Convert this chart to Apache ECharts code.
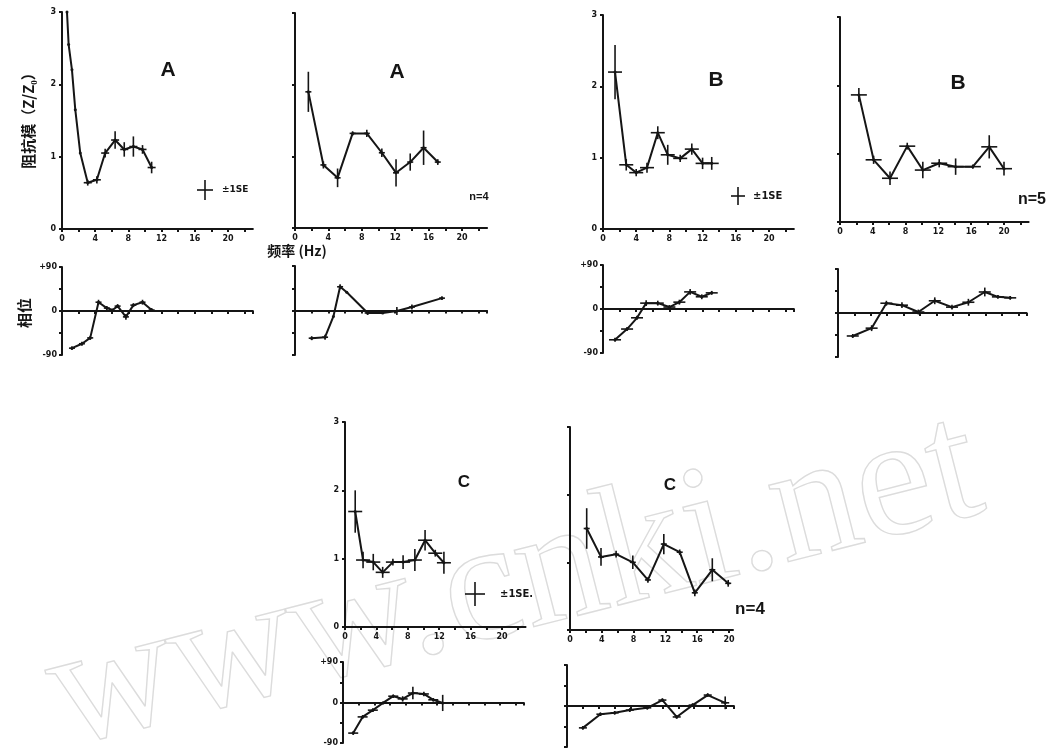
<!DOCTYPE html>
<html>
<head>
<meta charset="utf-8">
<script src="https://cdn.jsdelivr.net/npm/echarts@6/dist/echarts.min.js"></script>
<style>
  html, body { margin: 0; padding: 0; background: #fff; }
  #chart { width: 1046px; height: 751px; }
</style>
</head>
<body>
<div id="chart"></div>
<script>
// ---- Impedance magnitude Z/Z0 against frequency (Hz), with ±1 SE ----
const freqA1 = [0.6, 0.8, 1.2, 1.6, 2.2, 3.1, 4.2, 5.2, 6.4, 7.5, 8.6, 9.7, 10.8];
const zA1    = [3.0, 2.55, 2.2, 1.65, 1.05, 0.64, 0.68, 1.05, 1.23, 1.1, 1.14, 1.1, 0.85];
const seA1   = [null, null, null, null, null, 0.04, 0.05, 0.06, 0.12, 0.1, 0.14, 0.06, 0.08];

const freqA2 = [1.6, 3.4, 5.1, 6.9, 8.6, 10.4, 12.1, 13.8, 15.4, 17.1];
const zA2    = [1.9, 0.88, 0.70, 1.32, 1.32, 1.05, 0.77, 0.92, 1.12, 0.92];
const seA2   = [0.28, 0.05, 0.13, 0.03, 0.05, 0.06, 0.19, 0.12, 0.24, 0.04];

const freqB1 = [1.45, 2.8, 4.0, 5.3, 6.6, 7.8, 9.3, 10.7, 12.0, 13.1];
const zB1    = [2.2, 0.90, 0.79, 0.86, 1.35, 1.04, 0.99, 1.12, 0.92, 0.92];
const seB1   = [0.38, 0.08, 0.05, 0.07, 0.09, 0.14, 0.05, 0.08, 0.08, 0.09];

const freqB2 = [2.3, 4.1, 6.1, 8.2, 10.1, 12.1, 14.1, 16.2, 18.2, 20.0];
const zB2    = [1.86, 0.91, 0.64, 1.11, 0.76, 0.86, 0.81, 0.81, 1.10, 0.78];
const seB2   = [0.1, 0.06, 0.1, 0.05, 0.12, 0.06, 0.12, 0.03, 0.17, 0.1];

const freqC1 = [1.3, 2.3, 3.6, 4.8, 6.1, 7.4, 8.9, 10.2, 11.5, 12.6];
const zC1    = [1.69, 0.98, 0.95, 0.80, 0.95, 0.95, 0.98, 1.27, 1.08, 0.94];
const seC1   = [0.31, 0.12, 0.12, 0.08, 0.05, 0.1, 0.16, 0.15, 0.05, 0.16];

const freqC2 = [2.1, 3.9, 5.8, 7.9, 9.8, 11.8, 13.8, 15.7, 17.9, 19.9];
const zC2    = [1.5, 1.08, 1.12, 1.0, 0.74, 1.27, 1.15, 0.55, 0.89, 0.69];
const seC2   = [0.3, 0.13, 0.05, 0.1, 0.04, 0.15, 0.04, 0.05, 0.17, 0.05];

// ---- Phase (degrees) against frequency (Hz) ----
const freqA1p = [1.2, 2.4, 3.4, 4.4, 5.4, 6.1, 6.7, 7.7, 8.6, 9.7, 10.8];
const phA1    = [-76, -67, -55, 18, 6, 2, 10, -12, 12, 18, 2];
const sePhA1  = [4, 4, 4, 5, 4, null, 4, 6, 4, 5, 4];

const freqA2p = [2.0, 3.6, 4.6, 5.4, 6.2, 8.7, 10.5, 12.2, 14.0, 17.6];
const phA2    = [-56, -54, -12, 48, 37, -5, -5, -1, 7, 25];
const sePhA2  = [4, 5, null, 5, null, 4, null, 8, 5, 4];

const freqB1p = [1.45, 2.9, 4.1, 5.2, 6.6, 8.0, 9.2, 10.5, 11.9, 13.1];
const phB1    = [-63, -41, -18, 12, 12, 4, 14, 35, 25, 33];
const sePhB1  = [4, 4, 4, 6, 5, 4, 5, 6, 5, 4];

const freqB2p = [1.8, 4.1, 5.9, 7.8, 9.8, 11.8, 13.9, 15.9, 17.9, 19.5, 21.0];
const phB2    = [-47, -31, 20, 16, 2, 25, 12, 22, 43, 33, 31];
const sePhB2  = [4, 6, 5, 6, 5, 7, 5, 7, 9, 4, 4];

const freqC1p = [1.3, 2.5, 3.8, 5.1, 6.4, 7.6, 8.9, 10.3, 11.5, 12.7];
const phC1    = [-68, -32, -17, -1, 14, 8, 21, 19, 6, -1];
const sePhC1  = [4, 4, 4, 3, 4, 6, 14, 5, 4, 18];

const freqC2p = [2.0, 4.2, 6.0, 7.9, 10.1, 12.0, 13.8, 15.8, 17.7, 19.9];
const phC2    = [-48, -18, -15, -9, -4, 13, -24, 2, 24, 7];
const sePhC2  = [4, 4, 4, 4, 4, 4, 4, 4, 4, 14];

// Tick labels
const zTicks = ['0', '1', '2', '3'];
const phaseTicks = { '-90': '-90', '0': '0', '90': '+90' };

const INK = '#151515';

// Layout of every small plot: left edge, top, height, px per Hz, x max
const panels = [
  { kind: 'z',  left: 62,  top: 12,  h: 217, px: 8.3,  max: 23,   f: freqA1,  v: zA1,  se: seA1,  yLab: true,  arm: 4 },
  { kind: 'z',  left: 295, top: 13,  h: 215, px: 8.35, max: 23,   f: freqA2,  v: zA2,  se: seA2,  yLab: false, arm: 3 },
  { kind: 'z',  left: 603, top: 15,  h: 214, px: 8.3,  max: 23,   f: freqB1,  v: zB1,  se: seB1,  yLab: true,  arm: 7 },
  { kind: 'z',  left: 840, top: 17,  h: 205, px: 8.2,  max: 23,   f: freqB2,  v: zB2,  se: seB2,  yLab: false, arm: 8 },
  { kind: 'z',  left: 345, top: 422, h: 205, px: 7.85, max: 23,   f: freqC1,  v: zC1,  se: seC1,  yLab: true,  arm: 7 },
  { kind: 'z',  left: 570, top: 427, h: 203, px: 7.95, max: 20.5, f: freqC2,  v: zC2,  se: seC2,  yLab: false, arm: 3 },
  { kind: 'ph', left: 62,  top: 267, h: 88,  px: 8.3,  max: 23,   f: freqA1p, v: phA1, se: sePhA1, yLab: true,  arm: 3 },
  { kind: 'ph', left: 295, top: 266, h: 89,  px: 8.35, max: 23,   f: freqA2p, v: phA2, se: sePhA2, yLab: false, arm: 3 },
  { kind: 'ph', left: 603, top: 265, h: 88,  px: 8.3,  max: 23,   f: freqB1p, v: phB1, se: sePhB1, yLab: true,  arm: 6 },
  { kind: 'ph', left: 838, top: 269, h: 88,  px: 8.2,  max: 23,   f: freqB2p, v: phB2, se: sePhB2, yLab: false, arm: 6 },
  { kind: 'ph', left: 343, top: 662, h: 81,  px: 7.85, max: 23,   f: freqC1p, v: phC1, se: sePhC1, yLab: true,  arm: 5 },
  { kind: 'ph', left: 567, top: 665, h: 82,  px: 7.95, max: 21,   f: freqC2p, v: phC2, se: sePhC2, yLab: false, arm: 4 }
];

// Cross-shaped error mark: vertical ±SE and a short horizontal arm
function crossRenderer(arm) {
  return function (params, api) {
    const x = api.value(0), y = api.value(1), e = api.value(2);
    const c = api.coord([x, y]);
    const t = api.coord([x, y + e]);
    const b = api.coord([x, y - e]);
    return {
      type: 'group',
      children: [
        { type: 'line', shape: { x1: t[0], y1: t[1], x2: b[0], y2: b[1] }, style: { stroke: INK, lineWidth: 1.6 } },
        { type: 'line', shape: { x1: c[0] - arm, y1: c[1], x2: c[0] + arm, y2: c[1] }, style: { stroke: INK, lineWidth: 1.6 } }
      ]
    };
  };
}

const tickFont = { fontSize: 8, fontWeight: 'bold', color: INK, fontFamily: 'DejaVu Sans' };

const grid = [], xAxis = [], yAxis = [], series = [];
panels.forEach((p, i) => {
  grid.push({ left: p.left, top: p.top, width: p.max * p.px, height: p.h, containLabel: false, outerBoundsMode: 'none' });
  xAxis.push({
    gridIndex: i, type: 'value', min: 0, max: p.max, interval: 2,
    axisLine: { onZero: true, lineStyle: { color: INK, width: 2 } },
    axisTick: { show: true, length: 3, lineStyle: { color: INK, width: 2 } },
    splitLine: { show: false },
    axisLabel: Object.assign({
      show: p.kind === 'z', margin: 6, showMaxLabel: false,
      formatter: v => (v % 4 === 0 ? String(v) : '')
    }, tickFont)
  });
  yAxis.push(p.kind === 'z' ? {
    gridIndex: i, type: 'value', min: 0, max: 3, interval: 1,
    axisLine: { show: true, lineStyle: { color: INK, width: 2 } },
    axisTick: { show: true, length: 3, lineStyle: { color: INK, width: 2 } },
    splitLine: { show: false },
    axisLabel: Object.assign({ show: p.yLab, margin: 6, formatter: v => zTicks[v] || '' }, tickFont)
  } : {
    gridIndex: i, type: 'value', min: -90, max: 90, interval: 45,
    axisLine: { show: true, lineStyle: { color: INK, width: 2 } },
    axisTick: { show: true, length: 3, lineStyle: { color: INK, width: 2 } },
    splitLine: { show: false },
    axisLabel: Object.assign({ show: p.yLab, margin: 5, formatter: v => phaseTicks[String(v)] || '' }, tickFont)
  });
  series.push({
    type: 'line', xAxisIndex: i, yAxisIndex: i,
    data: p.f.map((f, k) => [f, p.v[k]]),
    symbol: 'circle', symbolSize: 3, showSymbol: true,
    itemStyle: { color: INK },
    lineStyle: { color: INK, width: 2 },
    silent: true, animation: false
  });
  series.push({
    type: 'custom', xAxisIndex: i, yAxisIndex: i,
    renderItem: crossRenderer(p.arm),
    data: p.f.map((f, k) => [f, p.v[k], p.se[k]]).filter(d => d[2] != null),
    silent: true, animation: false, z: 3
  });
});

// Legend cross for ±1SE
function seKey(cx, cy, halfV, halfH, label, lx, size) {
  return [
    { type: 'line', shape: { x1: cx, y1: cy - halfV, x2: cx, y2: cy + halfV }, style: { stroke: INK, lineWidth: 1.6 } },
    { type: 'line', shape: { x1: cx - halfH, y1: cy, x2: cx + halfH, y2: cy }, style: { stroke: INK, lineWidth: 1.6 } },
    { type: 'text', x: lx, y: cy, style: { text: label, fill: INK, font: 'bold ' + size + 'px "DejaVu Sans"', verticalAlign: 'middle' } }
  ];
}

function txt(x, y, s, size, extra) {
  return Object.assign({
    type: 'text', x: x, y: y,
    style: { text: s, fill: INK, font: 'bold ' + size + 'px "Liberation Sans"', align: 'center', verticalAlign: 'middle' }
  }, extra || {});
}

const graphic = [
  // faint site mark
  { type: 'text', x: 515, y: 585, rotation: 0.25, z: -10,
    style: { text: 'www.cnki.net', fill: 'none', stroke: '#dcdcdc', lineWidth: 1.4,
             font: '172px "Liberation Serif"', align: 'center', verticalAlign: 'middle' } },
  txt(168, 70, 'A', 21), txt(397, 72, 'A', 21),
  txt(716, 80, 'B', 21), txt(958, 83, 'B', 21),
  txt(464, 482, 'C', 17), txt(670, 485, 'C', 17),
  txt(479, 197, 'n=4', 11), txt(1032, 200, 'n=5', 16), txt(750, 609, 'n=4', 17),
  { type: 'text', x: 28, y: 117, rotation: Math.PI / 2,
    style: { text: '阻抗模（Z/Z₀）', fill: INK, font: 'bold 15px "Noto Sans CJK SC"', align: 'center', verticalAlign: 'middle' } },
  { type: 'text', x: 24, y: 313, rotation: Math.PI / 2,
    style: { text: '相位', fill: INK, font: 'bold 15px "Noto Sans CJK SC"', align: 'center', verticalAlign: 'middle' } },
  { type: 'text', x: 297, y: 251,
    style: { text: '频率 (Hz)', fill: INK, font: 'bold 14px "Noto Sans CJK SC"', align: 'center', verticalAlign: 'middle' } }
]
  .concat(seKey(205, 190, 10, 8, '±1SE', 222, 9))
  .concat(seKey(738, 196, 9, 7, '±1SE', 753, 10))
  .concat(seKey(475, 594, 12, 10, '±1SE.', 500, 10));

const chart = echarts.init(document.getElementById('chart'), null, { renderer: 'canvas' });
chart.setOption({
  backgroundColor: '#fff',
  animation: false,
  grid: grid,
  xAxis: xAxis,
  yAxis: yAxis,
  series: series,
  graphic: graphic
});
</script>
</body>
</html>
